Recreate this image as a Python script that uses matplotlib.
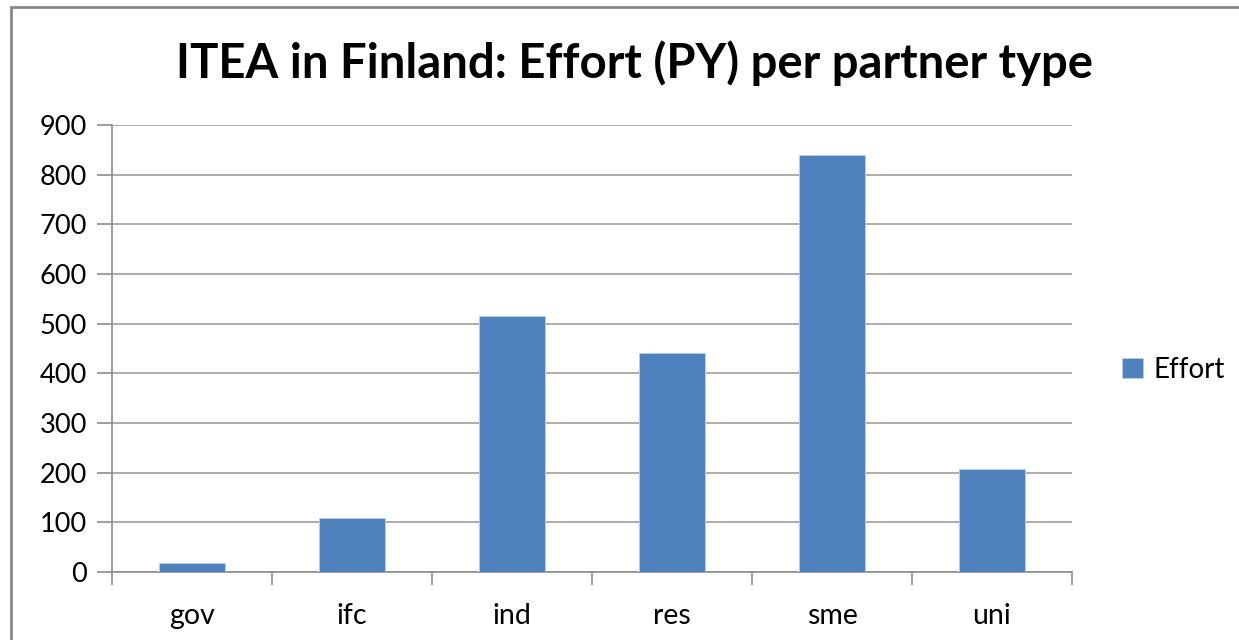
import matplotlib
matplotlib.use('Agg')
import matplotlib.pyplot as plt
import numpy as np
from matplotlib.patches import Rectangle

# Data
categories = ['gov', 'ifc', 'ind', 'res', 'sme', 'uni']
effort = [18, 109, 515, 441, 839, 208]

plt.rcParams['font.family'] = ['Lato', 'DejaVu Sans']

fig = plt.figure(figsize=(12.39, 6.4), dpi=100)
ax = fig.add_axes([112 / 1239, 68 / 640, 960 / 1239, 447 / 640])

x = np.arange(len(categories))
ax.bar(x, effort, width=0.41, color='#4f81bd', edgecolor='#b9cde5',
       linewidth=0.6, label='Effort', zorder=3)

ax.set_xlim(-0.5, len(categories) - 0.5)
ax.set_ylim(0, 900)
ax.set_yticks(np.arange(0, 901, 100))
ax.yaxis.grid(True, color='#a6a6a6', linewidth=1.3)
ax.set_axisbelow(True)

# category labels between boundary ticks
ax.set_xticks(x)
ax.set_xticklabels(categories)
ax.set_xticks(np.arange(-0.5, len(categories)), minor=True)
ax.tick_params(axis='x', which='major', length=0, pad=22, labelsize=20.5)
ax.tick_params(axis='x', which='minor', length=9, color='#8c8c8c', width=1.2)
ax.tick_params(axis='y', length=11, color='#8c8c8c', width=1.2, pad=7, labelsize=19.5)

for side in ['top', 'right']:
    ax.spines[side].set_visible(False)
for side in ['left', 'bottom']:
    ax.spines[side].set_color('#8c8c8c')
    ax.spines[side].set_linewidth(1.2)

fig.text(634 / 1239, 1 - 63 / 640, 'ITEA in Finland: Effort (PY) per partner type',
         ha='center', va='center', fontsize=34, fontweight='bold')

fig.legend(loc='center left', bbox_to_anchor=(1122 / 1239, 1 - 370 / 640),
           frameon=False, fontsize=20, handlelength=0.75, handleheight=0.75,
           handletextpad=0.4, borderpad=0, borderaxespad=0)

# outer chart border
fig.patches.append(Rectangle((11 / 1239, -0.1), 1.2, 1 - 7 / 640 + 0.1,
                             transform=fig.transFigure, fill=False,
                             edgecolor='#888888', linewidth=2))

fig.savefig('out.png', dpi=100, facecolor='white')
